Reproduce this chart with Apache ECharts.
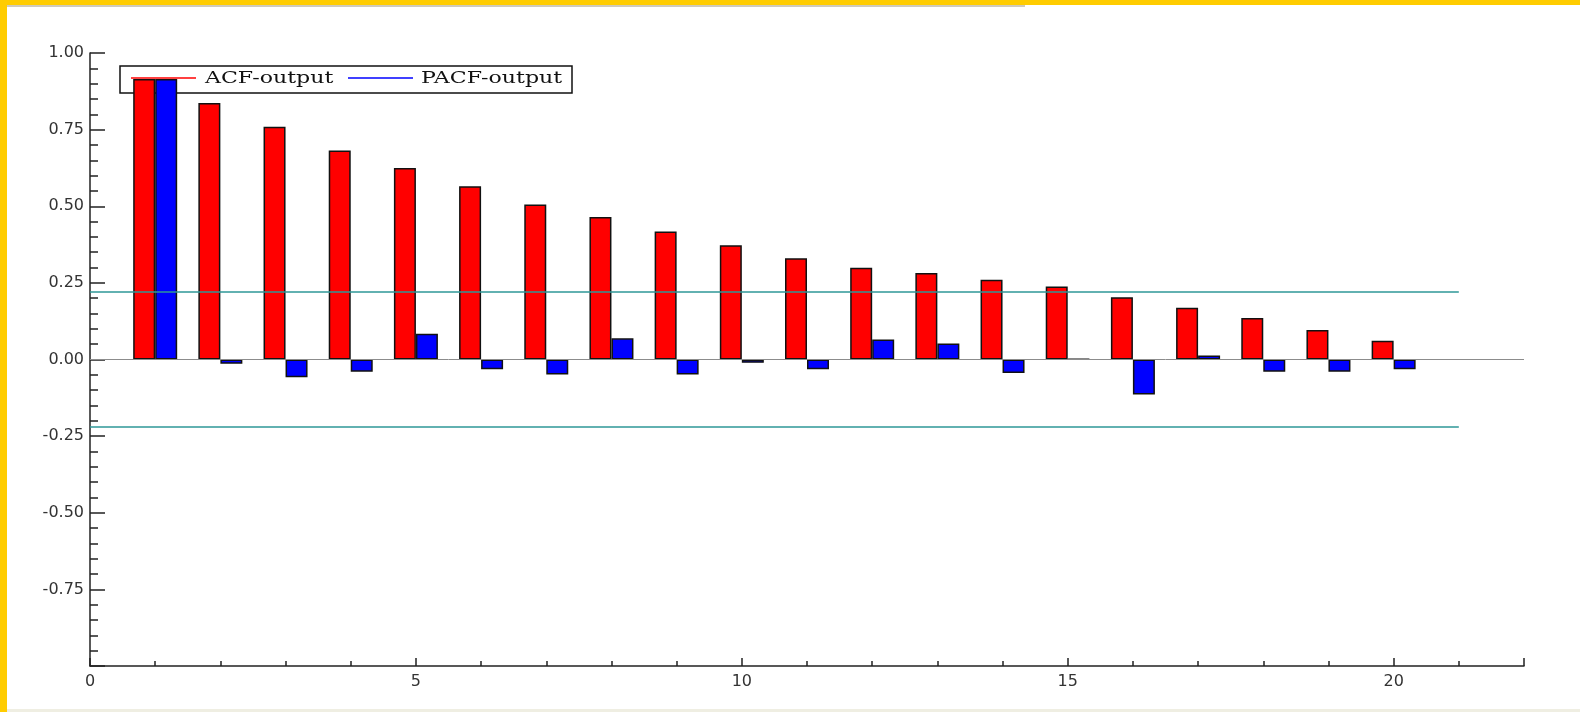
<!DOCTYPE html>
<html>
<head>
<meta charset="utf-8">
<title>ACF / PACF</title>
<script src="https://cdn.jsdelivr.net/npm/echarts@6/dist/echarts.min.js"></script>
<style>
  html, body { margin: 0; padding: 0; background: #fff; }
  .chart { position: absolute; left: 0; top: 0; width: 1580px; height: 712px; }
  .frame { position: absolute; pointer-events: none; }
  .frame.left { left: 0; top: 0; width: 7px; height: 712px; background: #ffcc00; }
  .frame.top { left: 0; top: 0; width: 1580px; height: 5px; background: #ffcc00; }
  .frame.shadow { left: 7px; top: 5px; width: 1018px; height: 2px; background: #cfcabc; }
  .frame.bottom { left: 7px; top: 709px; width: 1573px; height: 3px; background: #efeee2; }
</style>
</head>
<body>
<div class="chart" id="chart"></div>
<div class="frame top"></div>
<div class="frame shadow"></div>
<div class="frame left"></div>
<div class="frame bottom"></div>
<script>
// lags 1..20
const lags = [1, 2, 3, 4, 5, 6, 7, 8, 9, 10, 11, 12, 13, 14, 15, 16, 17, 18, 19, 20]
const acf = [0.915, 0.837, 0.759, 0.682, 0.625, 0.565, 0.506, 0.465, 0.418, 0.373,
             0.330, 0.299, 0.282, 0.260, 0.238, 0.203, 0.169, 0.135, 0.096, 0.061]
const pacf = [0.915, -0.014, -0.058, -0.040, 0.084, -0.032, -0.049, 0.069, -0.049, -0.011,
              -0.032, 0.065, 0.052, -0.044, 0.002, -0.114, 0.013, -0.040, -0.040, -0.032]
const seriesNames = ['ACF-output', 'PACF-output']
const confBand = 0.221      // +/- 2/sqrt(T)
const confEnd = 21

const chart = echarts.init(document.getElementById('chart'))

const axisText = { color: '#333', fontFamily: 'DejaVu Sans', fontSize: 16 }
const axisStroke = { color: '#222', width: 1.5 }

const option = {
  animation: false,
  grid: { left: 90, right: 56, top: 53, bottom: 46 },
  xAxis: {
    type: 'value',
    min: 0,
    max: 22,
    interval: 5,
    axisLine: { onZero: false, lineStyle: axisStroke },
    axisTick: { inside: true, length: 8, lineStyle: axisStroke },
    minorTick: { show: true, splitNumber: 5, length: 5, lineStyle: axisStroke },
    axisLabel: { ...axisText, margin: 8, showMaxLabel: false },
    splitLine: { show: false }
  },
  yAxis: {
    type: 'value',
    min: -1,
    max: 1,
    interval: 0.25,
    axisLine: { show: true, onZero: false, lineStyle: axisStroke },
    axisTick: { show: true, inside: true, length: 15, lineStyle: axisStroke },
    minorTick: { show: true, splitNumber: 5, length: 8, lineStyle: axisStroke },
    axisLabel: {
      ...axisText,
      margin: 6,
      showMinLabel: false,
      formatter: v => v.toFixed(2)
    },
    splitLine: { show: false }
  },
  graphic: [
    {
      type: 'group',
      z: 1,
      children: [
        { type: 'rect', shape: { x: 120, y: 66, width: 452, height: 27 },
          style: { fill: '#fff', stroke: '#111', lineWidth: 1.5 } },
        { type: 'line', shape: { x1: 131, y1: 78, x2: 196, y2: 78 },
          style: { stroke: '#ff0000', lineWidth: 1.5 } },
        { type: 'text', x: 205, y: 79, scaleX: 1.3,
          style: { text: seriesNames[0], fill: '#111', font: '17px "DejaVu Serif"', verticalAlign: 'middle' } },
        { type: 'line', shape: { x1: 348, y1: 78, x2: 413, y2: 78 },
          style: { stroke: '#0000ff', lineWidth: 1.5 } },
        { type: 'text', x: 421, y: 79, scaleX: 1.3,
          style: { text: seriesNames[1], fill: '#111', font: '17px "DejaVu Serif"', verticalAlign: 'middle' } }
      ]
    }
  ],
  series: [
    {
      // reference lines only: zero line and the +/- confidence band
      name: 'ref',
      type: 'line',
      z: 4,
      data: [],
      markLine: {
        silent: true,
        symbol: 'none',
        label: { show: false },
        lineStyle: { color: '#2e9797', width: 1.5, type: 'solid' },
        data: [
          [{ coord: [0, confBand] }, { coord: [confEnd, confBand] }],
          [{ coord: [0, -confBand] }, { coord: [confEnd, -confBand] }]
        ]
      }
    },
    {
      name: 'zero',
      type: 'line',
      z: 1,
      data: [],
      markLine: {
        silent: true,
        symbol: 'none',
        label: { show: false },
        lineStyle: { color: '#8c8c8c', width: 1, type: 'solid' },
        data: [{ yAxis: 0 }]
      }
    },
    {
      name: seriesNames[0],
      type: 'bar',
      z: 3,
      barWidth: 22,
      barGap: '0%',
      data: lags.map((l, i) => [l, acf[i]]),
      itemStyle: { color: '#ff0000', borderColor: '#111', borderWidth: 1.5 }
    },
    {
      name: seriesNames[1],
      type: 'bar',
      z: 3,
      barWidth: 22,
      barGap: '0%',
      data: lags.map((l, i) => [l, pacf[i]]),
      itemStyle: { color: '#0000ff', borderColor: '#111', borderWidth: 1.5 }
    }
  ]
}

chart.setOption(option)

window.addEventListener('resize', () => {
  chart.resize()
})
</script>
</body>
</html>
